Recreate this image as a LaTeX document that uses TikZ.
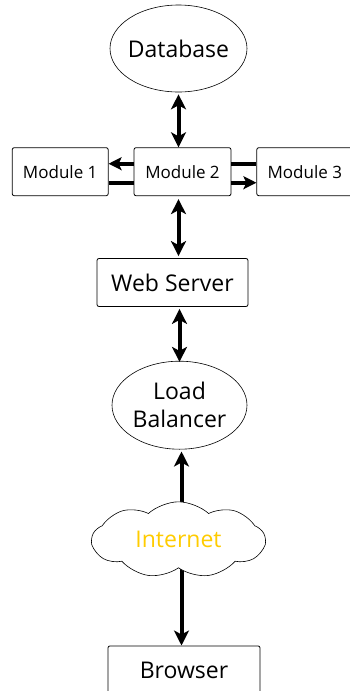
\documentclass[tikz,border=0pt]{standalone}
\usepackage{fontspec}
\setmainfont{Open Sans}
\usetikzlibrary{positioning, arrows.meta, shapes.geometric, shapes.symbols}

\begin{document}
\begin{tikzpicture}[>={Stealth[inset=4pt,length=15pt,width=15pt]},
                big/.style={font=\fontsize{23}{28}\selectfont},
                small/.style={font=\fontsize{17}{20}\selectfont},
                box/.style={draw, rounded corners=2pt, line width=0.8pt, inner sep=0pt},
                oval/.style={draw, ellipse, line width=0.6pt, inner xsep=-14pt, inner ysep=-8pt,
                             minimum width=137pt, minimum height=87pt, align=center, big},
                link/.style={line width=4pt},
                side/.style={line width=4pt, >={Stealth[inset=3pt,length=13pt,width=13pt]}}]

    \useasboundingbox (0,0) rectangle (349pt,-691pt);

    \node[oval] (db) at (178.5pt,-48.5pt) {Database};
    \node[box, small, minimum width=97pt, minimum height=48pt] (m2) [below=55pt of db, xshift=4pt] {Module 2};
    \node[box, small, minimum width=96pt, minimum height=48pt] (m1) [left=25pt of m2] {Module 1};
    \node[box, small, minimum width=96pt, minimum height=48pt] (m3) [right=25pt of m2] {Module 3};
    \node[box, big, minimum width=151pt, minimum height=48pt] (ws) [below=62pt of m2, xshift=-10pt] {Web Server};
    \node[oval, minimum width=135pt, minimum height=88pt] (lb) [below=54pt of ws, xshift=7pt] {Load\\Balancer};
    \node[box, big, minimum width=152pt, minimum height=48pt] (br) [below=196pt of lb, xshift=4.5pt] {Browser};

    % vertical links
    \draw[link, <->] ([yshift=-2pt]db.south) -- (db.south |- m2.north);
    \draw[link, <->] ([yshift=-3pt]m2.south -| db) -- ([yshift=2pt]ws.north -| db);
    \draw[link, <->] ([yshift=-2pt]ws.south -| lb) -- ([yshift=-1pt]lb.north);
    \draw[link, <->] (br.north -| lb.south) ++(2pt,0) -- ([xshift=2pt,yshift=-2pt]lb.south);

    % module links
    \draw[side, ->] ([yshift=8pt]m2.west) -- ([yshift=8pt]m1.east);
    \draw[side] ([yshift=-11pt]m1.east) -- ([yshift=-11pt]m2.west);
    \draw[side] ([yshift=8pt]m2.east) -- ([yshift=8pt]m3.west);
    \draw[side, ->] ([yshift=-11pt]m2.east) -- ([yshift=-11pt]m3.west);

    \node[draw, cloud, cloud puffs=9, cloud puff arc=85, aspect=2.3, fill=white, line width=0.6pt,
          minimum width=173pt, minimum height=76pt, inner sep=0pt, big, text={rgb,255:red,255;green,204;blue,0}]
          (net) [below=52pt of lb, xshift=-1pt] {Internet};

\end{tikzpicture}
\end{document}
